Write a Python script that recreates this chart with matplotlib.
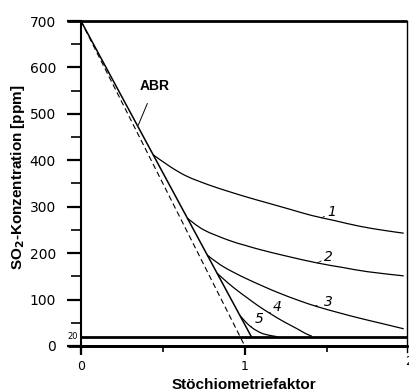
import matplotlib
matplotlib.use("Agg")
import matplotlib.pyplot as plt
from matplotlib import font_manager
from matplotlib.ticker import FixedLocator
from matplotlib.path import Path
from matplotlib.patches import PathPatch
import matplotlib.transforms as mtransforms

# ---------------- data ----------------
abr_x = [0.0, 1.04]
abr_y = [700, 20]
stoich_x = [0.0, 1.0]
stoich_y = [700, 0]

c1_x = [0.44, 0.55, 0.65, 0.78, 0.90, 1.02, 1.14, 1.28, 1.41, 1.55, 1.70, 1.85, 1.97]
c1_y = [412, 385, 365, 347, 333, 320, 308, 294, 281, 270, 258, 249, 243]
c2_x = [0.65, 0.75, 0.90, 1.00, 1.10, 1.25, 1.44, 1.60, 1.75, 1.97]
c2_y = [275, 250, 228, 217, 207, 194, 179, 169, 160, 151]
c3_x = [0.77, 0.85, 0.93, 1.01, 1.11, 1.21, 1.33, 1.44, 1.57, 1.70, 1.83, 1.97]
c3_y = [196, 175, 159, 145, 129, 114, 98, 85, 72, 60, 49, 37]
c4_x = [0.83, 0.90, 0.96, 1.01, 1.08, 1.15, 1.23, 1.32, 1.37, 1.41]
c4_y = [157, 135, 118, 105, 87, 71, 54, 37, 27, 21]
c5_x = [0.97, 1.01, 1.05, 1.10, 1.15, 1.20]
c5_y = [66, 50, 38, 28, 23, 20]

curves = [(c1_x, c1_y), (c2_x, c2_y), (c3_x, c3_y), (c4_x, c4_y), (c5_x, c5_y)]
curve_labels = ["1", "2", "3", "4", "5"]
label_text_pos = [(1.53, 289), (1.51, 192), (1.51, 95), (1.20, 84), (1.085, 58)]
label_point_pos = [(1.47, 276), (1.445, 179), (1.43, 86), (1.15, 71), (1.04, 42)]

y_ticks = [0, 100, 200, 300, 400, 500, 600, 700]
y_minor = [50, 150, 250, 350, 450, 550, 650]
x_ticks = [0, 1]
x_minor = [0.5, 1.5]
limit_value = 20


def smooth_path(xs, ys):
    """Catmull-Rom spline through the points, expressed as cubic Bezier segments."""
    pts = list(zip(xs, ys))
    verts = [pts[0]]
    codes = [Path.MOVETO]
    n = len(pts)
    for i in range(n - 1):
        p0 = pts[i - 1] if i > 0 else pts[i]
        p1 = pts[i]
        p2 = pts[i + 1]
        p3 = pts[i + 2] if i + 2 < n else pts[i + 1]
        c1 = (p1[0] + (p2[0] - p0[0]) / 6.0, p1[1] + (p2[1] - p0[1]) / 6.0)
        c2 = (p2[0] - (p3[0] - p1[0]) / 6.0, p2[1] - (p3[1] - p1[1]) / 6.0)
        verts += [c1, c2, p2]
        codes += [Path.CURVE4, Path.CURVE4, Path.CURVE4]
    return Path(verts, codes)


# ---------------- fonts ----------------
names = {f.name for f in font_manager.fontManager.ttflist}
tick_family = ["Liberation Sans Narrow"] if "Liberation Sans Narrow" in names else ["DejaVu Sans"]
label_family = ["Liberation Sans", "DejaVu Sans"]

fig = plt.figure(figsize=(4.09, 3.92), dpi=100)
ax = fig.add_axes([0.198, 0.1008, 0.797, 0.8456])
ax.set_xlim(0, 1.99)
ax.set_ylim(-14, 700)

# lines
ax.plot(stoich_x, stoich_y, color="black", lw=0.8, ls=(0, (5, 3)))
ax.plot(abr_x, abr_y, color="black", lw=1.1)
for cx, cy in curves:
    ax.add_patch(PathPatch(smooth_path(cx, cy), facecolor="none", edgecolor="black", lw=0.9))

# thick horizontal lines (700, 20, 0)
blend = mtransforms.blended_transform_factory(ax.transAxes, ax.transData)
ax.plot([-0.043, 1.0], [700, 700], transform=blend, color="black", lw=2.0, clip_on=False,
        solid_capstyle="butt")
ax.plot([-0.040, 1.0], [0, 0], transform=blend, color="black", lw=2.0, clip_on=False,
        solid_capstyle="butt")
ax.plot([0.0, 1.0], [limit_value, limit_value], transform=blend, color="black", lw=2.0,
        clip_on=False, solid_capstyle="butt")

# spines
ax.spines["top"].set_visible(False)
ax.spines["bottom"].set_position(("data", 0))
ax.spines["bottom"].set_linewidth(2.0)
ax.spines["left"].set_linewidth(1.5)
ax.spines["right"].set_linewidth(1.0)

# ticks
ax.yaxis.set_major_locator(FixedLocator(y_ticks))
ax.yaxis.set_minor_locator(FixedLocator(y_minor))
ax.xaxis.set_major_locator(FixedLocator(x_ticks))
ax.xaxis.set_minor_locator(FixedLocator(x_minor))
ax.tick_params(axis="y", which="major", direction="out", length=10, width=1.6, pad=8,
               labelsize=10)
ax.tick_params(axis="y", which="minor", direction="out", length=7, width=1.2)
ax.tick_params(axis="x", which="major", direction="out", length=6.5, width=1.6, pad=3.5,
               labelsize=9)
ax.tick_params(axis="x", which="minor", direction="out", length=4.5, width=1.2)
for lab in ax.get_yticklabels() + ax.get_xticklabels():
    lab.set_family(tick_family)

# extra tick-like texts
ax.text(-0.008, limit_value, "20", transform=blend, ha="right", va="center", fontsize=6,
        family=tick_family)
ax.text(2.0, -33, "2", ha="center", va="center", fontsize=9, family=tick_family,
        clip_on=False)

# curve labels
for lab, (tx, ty), (px, py) in zip(curve_labels, label_text_pos, label_point_pos):
    ax.annotate(lab, xy=(px, py), xytext=(tx, ty), ha="center", va="center",
                fontsize=10, family=tick_family, style="italic",
                arrowprops=dict(arrowstyle="-", lw=0.6, color="black",
                                shrinkA=3, shrinkB=0, ls=(0, (2, 1))))

ax.annotate("ABR", xy=(0.35, 476), xytext=(0.45, 560), ha="center", va="center",
            fontsize=10, fontweight="bold", family=label_family,
            arrowprops=dict(arrowstyle="-", lw=0.7, color="black", shrinkA=6, shrinkB=0))

# axis labels
fig.text(0.044, 0.548, r"SO$_\mathbf{2}$-Konzentration [ppm]", rotation=90,
         ha="center", va="center", fontsize=11, fontweight="bold", family=label_family)
fig.text(0.597, 0.019, "Stöchiometriefaktor", ha="center", va="center",
         fontsize=11, fontweight="bold", family=label_family)

fig.savefig("out.png", dpi=100)
